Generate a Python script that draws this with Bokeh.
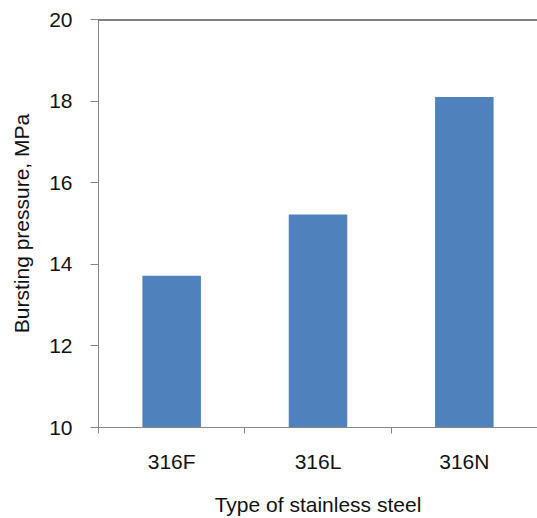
from bokeh.plotting import figure
from bokeh.models import FixedTicker, Span, Range1d, ColumnDataSource
from bokeh.embed import file_html
from bokeh.resources import INLINE

categories = ["316F", "316L", "316N"]
pressure = [13.72, 15.22, 18.1]
y_ticks = [10, 12, 14, 16, 18, 20]

xpos = [i + 0.5 for i in range(len(categories))]
src = ColumnDataSource(dict(x=xpos, top=pressure, cat=categories))

p = figure(width=537, height=518, output_backend="svg", toolbar_location=None,
           x_range=Range1d(0, len(categories)), y_range=Range1d(10, 20))
p.min_border_left = 98
p.min_border_right = 0
p.min_border_top = 19
p.min_border_bottom = 90
p.outline_line_color = None
p.background_fill_color = "white"
p.border_fill_color = "white"
p.xgrid.visible = False
p.ygrid.visible = False

p.vbar(x="x", top="top", bottom=10, width=0.4, source=src,
       fill_color="#4F81BD", line_color=None)

p.add_layout(Span(location=20, dimension="width", line_color="#000000", line_width=2))

font = "Liberation Sans"
ax_col = "#868686"
txt_col = "#111111"
fs = "21px"

xa = p.xaxis[0]
xa.ticker = FixedTicker(ticks=xpos, minor_ticks=list(range(len(categories) + 1)))
xa.major_label_overrides = {x: c for x, c in zip(xpos, categories)}
xa.major_tick_out = 0
xa.major_tick_in = 0
xa.minor_tick_out = 6
xa.minor_tick_in = 0
xa.minor_tick_line_color = ax_col
xa.axis_line_color = ax_col
xa.major_label_standoff = 16
xa.major_label_text_font = font
xa.major_label_text_font_size = fs
xa.major_label_text_color = txt_col
xa.axis_label = "Type of stainless steel"
xa.axis_label_text_font = font
xa.axis_label_text_font_size = fs
xa.axis_label_text_font_style = "normal"
xa.axis_label_text_color = txt_col
xa.axis_label_standoff = 17

ya = p.yaxis[0]
ya.ticker = FixedTicker(ticks=y_ticks, minor_ticks=[])
ya.major_tick_out = 8
ya.major_tick_in = 0
ya.major_tick_line_color = ax_col
ya.axis_line_color = ax_col
ya.major_label_standoff = 18
ya.major_label_text_font = font
ya.major_label_text_font_size = fs
ya.major_label_text_color = txt_col
ya.axis_label = "Bursting pressure, MPa"
ya.axis_label_text_font = font
ya.axis_label_text_font_size = fs
ya.axis_label_text_font_style = "normal"
ya.axis_label_text_color = txt_col
ya.axis_label_standoff = 13

open("out.html", "w").write(file_html(p, INLINE))
